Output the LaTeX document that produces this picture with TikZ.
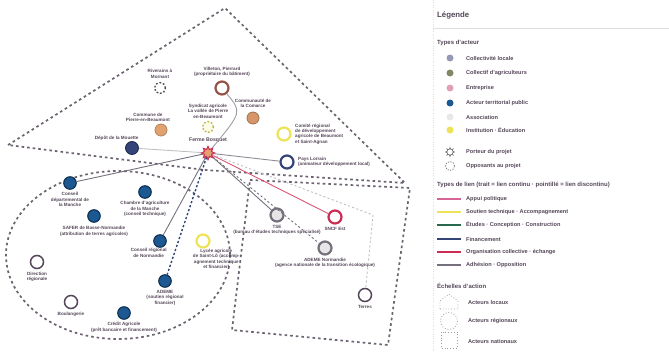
\documentclass[tikz,border=0pt]{standalone}
\usepackage{fontspec}
\setmainfont{Liberation Sans}
\usetikzlibrary{positioning,shapes.geometric}

\definecolor{maptext}{RGB}{84,70,88}
\definecolor{mapzone}{RGB}{108,98,112}
\definecolor{mapblue}{RGB}{28,88,146}
\definecolor{mapnavy}{RGB}{52,68,120}
\definecolor{mapbrown}{RGB}{150,84,72}
\definecolor{maporange}{RGB}{226,162,112}
\definecolor{mapyellow}{RGB}{238,226,86}
\definecolor{mapgray}{RGB}{118,112,124}
\definecolor{mapred}{RGB}{204,44,84}
\definecolor{legcoll}{RGB}{150,152,182}
\definecolor{legagri}{RGB}{128,136,104}
\definecolor{legentr}{RGB}{226,160,180}
\definecolor{legasso}{RGB}{232,232,232}
\definecolor{legpink}{RGB}{214,100,150}
\definecolor{leggreen}{RGB}{40,104,76}

\begin{document}
\begin{tikzpicture}[x=1pt,y=-1pt,>=stealth,
    zone/.style={draw=mapzone,line width=1.7pt,dash pattern=on 2.6pt off 3pt},
    lbl/.style={text=maptext,align=center,inner sep=.4pt,font=\fontsize{4.6}{5.4}\selectfont\bfseries},
    legtxt/.style={text=maptext,anchor=west,inner sep=0pt,font=\fontsize{5.6}{6.6}\selectfont\bfseries},
    leghead/.style={text=maptext,anchor=west,inner sep=0pt,font=\fontsize{6}{7}\selectfont\bfseries},
    public/.style={circle,minimum size=12.5pt,inner sep=0pt,fill=mapblue,draw=mapblue!55!black,line width=1.1pt},
    ring/.style={circle,minimum size=13pt,inner sep=0pt,fill=white,line width=2.2pt},
    dotring/.style={circle,minimum size=11pt,inner sep=0pt,draw=maptext,line width=1.3pt,dash pattern=on 1.8pt off 1.8pt},
    solo/.style={circle,minimum size=12pt,inner sep=0pt,line width=.8pt},
    porteur/.style={star,star points=8,star point ratio=1.8,minimum size=13pt,inner sep=0pt,fill=maporange,draw=mapred,line width=.9pt},
    link/.style={line width=.9pt}]
  \useasboundingbox (0,0) rectangle (669,351);

  % zones
  \draw[zone] (8,145) -- (225,8) -- (405,183) -- (205,170) -- cycle;
  \draw[zone] (118,255) ellipse [x radius=112, y radius=84];
  \draw[zone] (250,180) -- (410,188) -- (388,345) -- (232,330) -- cycle;

  % acteurs locaux
  \node[dotring] (riverains) at (160,88) {};
  \node[lbl,above=3pt of riverains] {Riverains à\\Mornant};
  \node[ring,draw=mapbrown] (ville) at (222,88) {};
  \node[lbl,above=3pt of ville] {Villeton, Pierrard\\(propriétaire du bâtiment)};
  \node[solo,fill=maporange,draw=maporange!80!black] (commune) at (161,130) {};
  \node[lbl,above left=3pt and -14pt of commune] {Commune de\\Pierre-en-Beaumont};
  \node[dotring,draw=mapyellow!80!black,fill=mapyellow!15] (syndicat) at (208,127) {};
  \node[lbl,above=2pt of syndicat] {Syndicat agricole\\La vallée de Pierre\\en-Beaumont};
  \node[solo,fill=maporange!85!mapbrown,draw=maporange!70!black] (comcom) at (253,118) {};
  \node[lbl,above=3pt of comcom] {Communauté de\\la Comarce};
  \node[ring,draw=mapyellow] (comite) at (284,134) {};
  \node[lbl,right=3pt of comite,align=left] {Comité régional\\de développement\\agricole de Beaumont\\et Saint-Agnan};
  \node[ring,draw=mapnavy] (pays) at (287,162) {};
  \node[lbl,right=3pt of pays,align=left] {Pays Lorrain\\(animateur développement local)};
  \node[solo,fill=mapnavy,draw=mapnavy!60!black,minimum size=13pt] (depot) at (132,148) {};
  \node[lbl,above left=2pt and -12pt of depot] {Dépôt de la Mouette};

  % porteur du projet
  \node[porteur] (ferme) at (208,153) {};
  \node[lbl,above=2pt of ferme,font=\fontsize{5.2}{6}\selectfont\bfseries] {Ferme Bosquet};

  % acteurs regionaux
  \node[public] (cd) at (70,183) {};
  \node[lbl,below=2pt of cd] {Conseil\\départemental de\\la Manche};
  \node[public] (chambre) at (145,192) {};
  \node[lbl,below=2pt of chambre] {Chambre d'agriculture\\de la Manche\\(conseil technique)};
  \node[public] (safer) at (94,216) {};
  \node[lbl,below=3pt of safer] {SAFER de Basse-Normandie\\(attribution de terres agricoles)};
  \node[public] (cr) at (160,241) {};
  \node[lbl,below left=2pt and -12pt of cr] {Conseil régional\\de Normandie};
  \node[ring,draw=mapyellow] (lycee) at (203,241) {};
  \node[lbl,below right=2pt and -16pt of lycee] {Lycée agricole\\de Saint-Lô (accomp-\\agnement technique\\et financier)};
  \node[public] (ademe) at (165,281) {};
  \node[lbl,below=2pt of ademe] {ADEME\\(soutien régional\\financier)};
  \node[ring,draw=maptext,line width=1.5pt] (direction) at (37,262) {};
  \node[lbl,below=2pt of direction] {Direction\\régionale};
  \node[ring,draw=maptext,line width=1.5pt] (boulangerie) at (71,302) {};
  \node[lbl,below=2pt of boulangerie] {Boulangerie};
  \node[public] (credit) at (124,313) {};
  \node[lbl,below=2pt of credit] {Crédit Agricole\\(prêt bancaire et financement)};

  % acteurs nationaux
  \node[ring,draw=mapgray,fill=mapgray!18] (tse) at (277,215) {};
  \node[lbl,below=2pt of tse] {TSE\\(bureau d'études techniques spécialisé)};
  \node[ring,draw=mapred] (sncf) at (335,217) {};
  \node[lbl,below=2pt of sncf] {SNCF Est};
  \node[ring,draw=mapgray,fill=mapgray!18] (ademen) at (325,248) {};
  \node[lbl,below=2pt of ademen] {ADEME Normandie\\(agence nationale de la transition écologique)};
  \node[ring,draw=maptext,line width=1.5pt] (terres) at (365,295) {};
  \node[lbl,below=2pt of terres] {Terres};
  \coordinate (coude) at (373,215);

  % liens
  \draw[link,mapgray!70] (ville) .. controls (242,112) .. (ferme);
  \draw[link,mapgray!45] (ferme) -- (depot);
  \draw[link,mapgray!80] (ferme) -- (pays);
  \draw[link,mapgray] (ferme) -- (cd);
  \draw[link,mapgray] (ferme) -- (cr);
  \draw[link,mapnavy,line width=1.4pt,dash pattern=on 2.2pt off 2pt] (ferme) -- (ademe);
  \draw[link,mapred!80] (ferme) -- (sncf);
  \draw[link,mapgray] (ferme) -- (tse);
  \draw[link,mapgray,dash pattern=on 2.2pt off 2.2pt] (ferme) -- (ademen);
  \draw[link,mapgray!45,dash pattern=on 2.2pt off 2.2pt] (ferme) -- (coude) -- (terres);
  \node[porteur] at (ferme) {};

  % legende
  \draw[gray!25,dotted] (433,0) -- (433,351);
  \draw[gray!25] (433,28) -- (669,28);
  \node[leghead,font=\fontsize{7.8}{9}\selectfont\bfseries] (legende) at (437,15) {Légende};
  \node[leghead] (typesact) at (437,43) {Types d'acteur};
  \foreach \y/\c/\t in {58/legcoll/Collectivité locale,73/legagri/Collectif d'agriculteurs,
      88/legentr/Entreprise,103/mapblue/Acteur territorial public,117/legasso/Association,
      130/mapyellow/Institution · Éducation} {
    \node[circle,minimum size=7pt,inner sep=0pt,fill=\c] (act\y) at (450,\y) {};
    \node[legtxt] at (466,\y) {\t};
  }
  \node[star,star points=8,star point ratio=1.8,minimum size=9pt,inner sep=0pt,draw=mapgray,line width=.6pt] (legporteur) at (450,152) {};
  \node[legtxt] at (466,152) {Porteur du projet};
  \node[circle,minimum size=9pt,inner sep=0pt,draw=mapgray,line width=.7pt,dash pattern=on 1.3pt off 1.3pt] (legoppo) at (450,166) {};
  \node[legtxt] at (466,166) {Opposants au projet};

  \node[leghead] (typeslien) at (437,185) {Types de lien (trait = lien continu · pointillé = lien discontinu)};
  \foreach \y/\c/\t in {199/legpink/Appui politique,212/mapyellow/Soutien technique · Accompagnement,
      225/leggreen/Études · Conception · Construction,239/mapnavy/Financement,
      252/mapred/Organisation collective · échange,265/mapgray/Adhésion · Opposition} {
    \coordinate (lien\y) at (437,\y);
    \draw[\c,line width=2.4pt] (lien\y) -- ++(24,0);
    \node[legtxt] at (466,\y) {\t};
  }

  \node[leghead] (echelles) at (437,286) {Échelles d'action};
  \draw[mapgray!70,line width=.8pt,dotted] (440,309) -- (440,301) -- (449,294) -- (458,301) -- (458,309) -- cycle;
  \node[legtxt] (legloc) at (468,302) {Acteurs locaux};
  \draw[mapgray!70,line width=.8pt,dotted] (449,321) circle (8.5);
  \node[legtxt] (legreg) at (468,321) {Acteurs régionaux};
  \draw[mapgray!70,line width=.8pt,dotted] (441,332) rectangle (457,348);
  \node[legtxt] (legnat) at (468,341) {Acteurs nationaux};
\end{tikzpicture}
\end{document}
